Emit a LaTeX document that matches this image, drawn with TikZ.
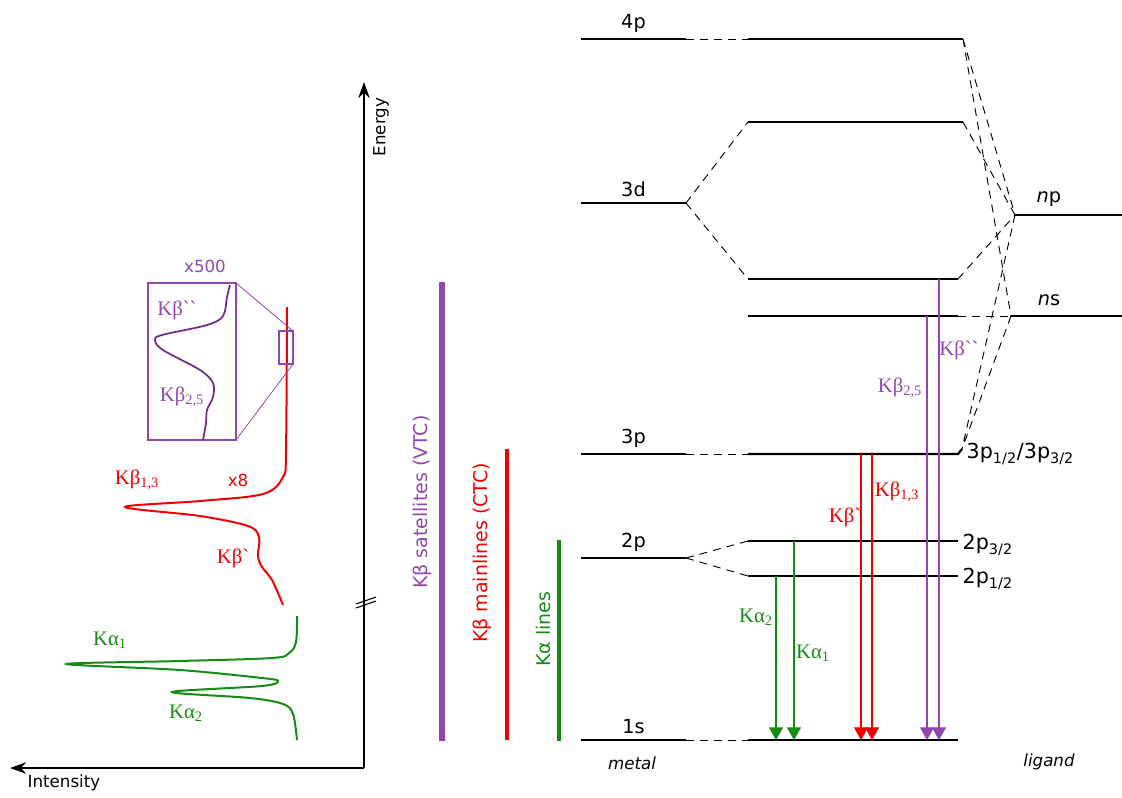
\documentclass[tikz,border=0pt]{standalone}
\usepackage{fontspec}
\setmainfont{DejaVu Sans}
\newfontfamily\grkfont{Liberation Serif}
\usetikzlibrary{arrows.meta}
\definecolor{kagreen}{RGB}{20,140,20}
\definecolor{kbred}{RGB}{240,0,0}
\definecolor{vtcpurple}{RGB}{145,70,175}
\definecolor{insetpurple}{RGB}{115,40,140}
\newcommand{\sbs}[1]{\textsubscript{#1}}
\newcommand{\gv}{\char96}
\tikzset{
  mlevel/.style={line width=1pt},
  level/.style={line width=1.7pt},
  link/.style={dash pattern=on 6pt off 4.5pt, line width=0.7pt},
  trans/.style={line width=0.9pt, -{Triangle[width=10.5pt,length=9.5pt]}},
  lbl/.style={font=\fontsize{12.5}{14}\selectfont},
  lvllbl/.style={font=\fontsize{14.5}{16}\selectfont},
  sidelbl/.style={font=\fontsize{15.5}{17}\selectfont},
  klbl/.style={font=\grkfont\fontsize{15.5}{17}\selectfont},
  barlbl/.style={font=\fontsize{14.2}{16}\selectfont, rotate=90},
  axis/.style={line width=1.9pt, -{Stealth[length=12pt,width=8.5pt]}},
}
\begin{document}
\begin{tikzpicture}[x=0.75pt,y=-0.75pt]
\useasboundingbox (0,0) rectangle (1122,797);

% axes
\coordinate (origin) at (364,768);
\draw[axis] (origin) -- (364,82);
\draw[axis] (origin) -- (10,768);
\node[lbl, rotate=90] at (381,127) {Energy};
\node[lbl] at (64,783) {Intensity};
\draw[line width=0.8pt] (356,604) -- (376,597) (356,608) -- (376,601);

% spectrum
\draw[kagreen, line width=1.5pt] plot[smooth, tension=0.55] coordinates {(297,616) (296,642) (289,653) (272,658) (180,661) (67,664) (180,670) (262,678) (278,681) (262,686) (172,692) (250,698) (283,704) (293,714) (297,740)};
\node[klbl, kagreen] at (110,640) {Kα\sbs{1}};
\node[klbl, kagreen] at (186,713) {Kα\sbs{2}};

\draw[kbred, line width=1.5pt] plot[smooth, tension=0.55] coordinates {(287,307) (286,450) (283,477) (263,494) (200,501) (125,507) (200,516) (248,526) (259,537) (258,556) (262,567) (272,580) (283,605)};
\node[klbl, kbred] at (137,480) {Kβ\sbs{1,3}};
\node[lbl, kbred] at (238,480) {x8};
\node[klbl, kbred] at (233,558) {Kβ\gv};

\draw[vtcpurple, line width=0.8pt] (148,283) rectangle (236,440);
\draw[vtcpurple, line width=0.8pt] (279,331) rectangle (293,364);
\draw[vtcpurple, line width=0.6pt] (236,283) -- (293,331) (236,440) -- (293,364);
\draw[insetpurple, line width=1.3pt] plot[smooth, tension=0.55] coordinates {(230,285) (227,297) (223,316) (207,325) (162,335) (155,340) (163,350) (200,370) (213,383) (213,397) (207,410) (206,423) (203,440)};
\node[lbl, vtcpurple] at (205,266) {x500};
\node[klbl, vtcpurple] at (177,310) {Kβ\gv\gv};
\node[klbl, vtcpurple] at (182,397) {Kβ\sbs{2,5}};

% bars
\draw[vtcpurple, line width=4pt] (442,282) -- (442,741);
\draw[kbred, line width=3.5pt] (507,449) -- (507,740);
\draw[kagreen, line width=3.5pt] (559,540) -- (559,741);
\node[barlbl, vtcpurple] at (422,502) {Kβ satellites (VTC)};
\node[barlbl, kbred] at (482,553) {Kβ mainlines (CTC)};
\node[barlbl, kagreen] at (543,629) {Kα lines};

% metal levels
\foreach \nm/\y in {4p/39, 3d/203, 3p/454, 2p/558, 1s/740}
  \draw[mlevel] (581,\y) -- node[above=1pt, lvllbl] {\nm} (686,\y) coordinate (m\nm);
\node[font=\itshape\fontsize{12.5}{14}\selectfont] at (632,763) {metal};

% complex levels
\draw[level] (748,39) coordinate (c4pL) -- (963,39) coordinate (c4pR);
\draw[level] (748,122) coordinate (cdhL) -- (963,122) coordinate (cdhR);
\draw[level] (748,279) coordinate (cdlL) -- (958,279) coordinate (cdlR);
\draw[level] (748,316) coordinate (cnsL) -- (958,316) coordinate (cnsR);
\draw[level] (748,454) coordinate (c3pL) -- (958,454) -- (962,449) coordinate (c3pR);
\draw[level] (748,541) coordinate (c2phL) -- (958,541) coordinate (c2phR);
\draw[level] (748,576) coordinate (c2plL) -- (958,576) coordinate (c2plR);
\draw[level] (748,740) coordinate (c1sL) -- (958,740) coordinate (c1sR);
\node[sidelbl, right] at (962,454) {3p\sbs{1/2}/3p\sbs{3/2}};
\node[sidelbl, right] at (958,545) {2p\sbs{3/2}};
\node[sidelbl, right] at (958,579) {2p\sbs{1/2}};

% ligand levels
\draw[mlevel] (1015,215) coordinate (lnp) -- (1122,215);
\draw[mlevel] (1011,316) coordinate (lns) -- (1122,316);
\node[lvllbl] at (1049,199) {\textit{n}p};
\node[lvllbl] at (1049,300) {\textit{n}s};
\node[font=\itshape\fontsize{12.5}{14}\selectfont] at (1049,762) {ligand};

% correlation lines
\draw[link] (m4p) -- (c4pL);
\draw[link] (m3d) -- (cdhL) (m3d) -- (cdlL);
\draw[link] (m3p) -- (c3pL);
\draw[link] (m2p) -- (c2phL) (m2p) -- (c2plL);
\draw[link] (m1s) -- (c1sL);
\draw[link] (c4pR) -- (lnp) (c4pR) -- (lns);
\draw[link] (cdhR) -- (lnp) (cdlR) -- (lnp);
\draw[link] (cnsR) -- (lns);
\draw[link] (lnp) -- (c3pR) (lns) -- (c3pR);

% transitions
\draw[trans, kagreen] (776,576) -- (776,740);
\draw[trans, kagreen] (794,541) -- (794,740);
\draw[trans, kbred] (861,454) -- (861,740);
\draw[trans, kbred] (872,454) -- (872,740);
\draw[trans, vtcpurple] (927,316) -- (927,740);
\draw[trans, vtcpurple] (939,279) -- (939,740);
\node[klbl, kagreen] at (756,617) {Kα\sbs{2}};
\node[klbl, kagreen] at (813,653) {Kα\sbs{1}};
\node[klbl, kbred] at (845,517) {Kβ\gv};
\node[klbl, kbred] at (897,492) {Kβ\sbs{1,3}};
\node[klbl, vtcpurple] at (900,388) {Kβ\sbs{2,5}};
\node[klbl, vtcpurple] at (959,350) {Kβ\gv\gv};
\end{tikzpicture}
\end{document}
